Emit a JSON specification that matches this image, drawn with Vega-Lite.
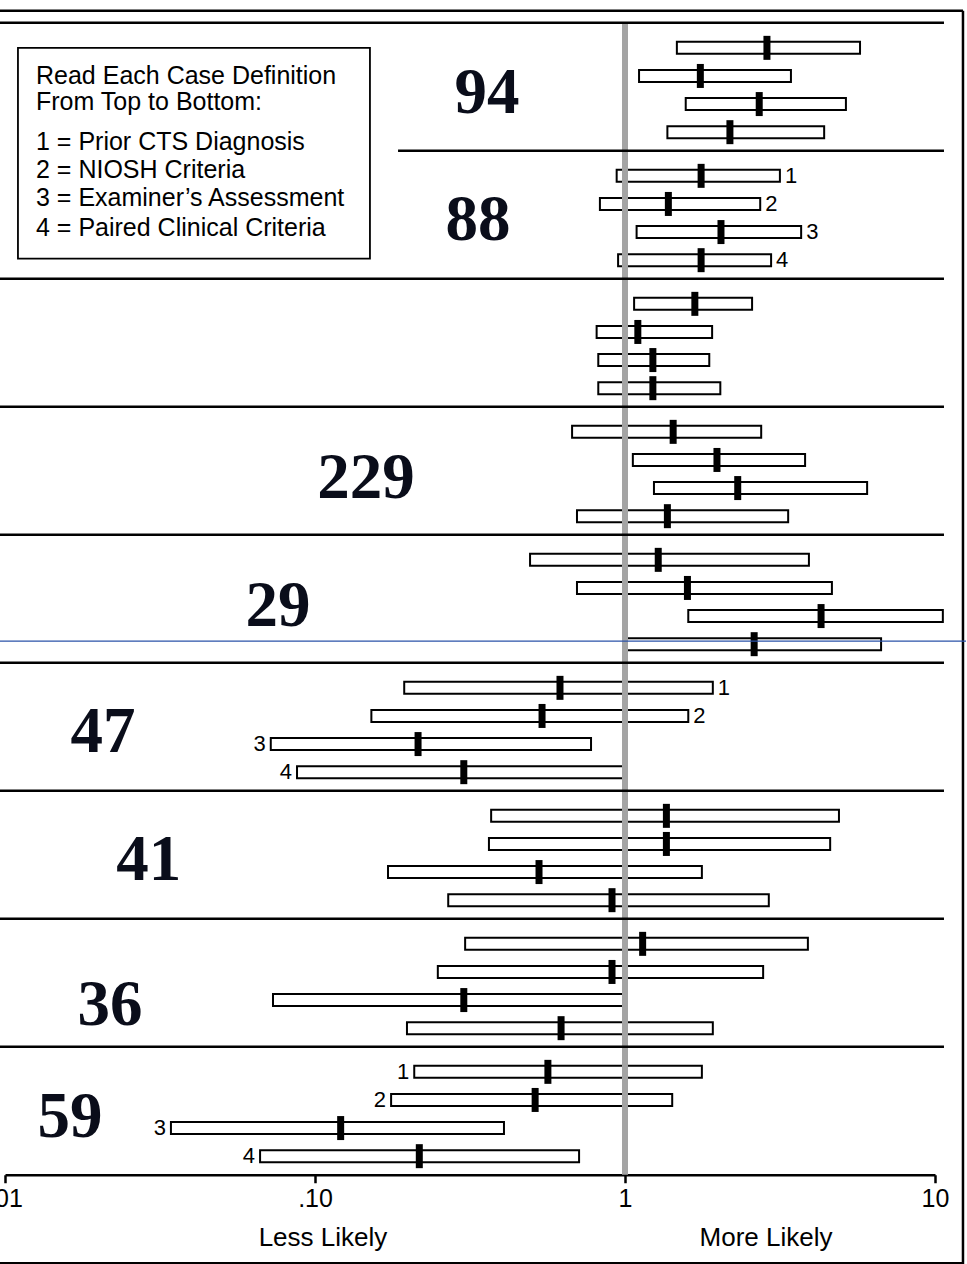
{
  "$schema": "https://vega.github.io/schema/vega-lite/v6.json",
  "autosize": {"type": "pad"},
  "padding": {"left": -19, "top": 8.75, "right": 0, "bottom": 0},
  "background": "white",
  "bounds": "flush",
  "config": {
    "view": {"stroke": null},
    "axisX": {
      "domainColor": "black", "domainWidth": 2.5, "tickColor": "black", "tickWidth": 2.5, "tickSize": 8,
      "labelFont": "Liberation Sans", "labelFontSize": 25, "labelColor": "black", "labelPadding": 4,
      "labelFlush": false, "grid": false
    }
  },
  "data": {"values": [
    {"kind": "ci", "g": "g1", "def": 1, "lo": 1.47, "est": 2.87, "hi": 5.73},
    {"kind": "ci", "g": "g1", "def": 2, "lo": 1.11, "est": 1.75, "hi": 3.43},
    {"kind": "ci", "g": "g1", "def": 3, "lo": 1.57, "est": 2.71, "hi": 5.16},
    {"kind": "ci", "g": "g1", "def": 4, "lo": 1.37, "est": 2.18, "hi": 4.39},
    {"kind": "ci", "g": "g2", "def": 1, "lo": 0.94, "est": 1.76, "hi": 3.16, "lab": "1", "side": "r"},
    {"kind": "ci", "g": "g2", "def": 2, "lo": 0.83, "est": 1.38, "hi": 2.73, "lab": "2", "side": "r"},
    {"kind": "ci", "g": "g2", "def": 3, "lo": 1.09, "est": 2.04, "hi": 3.70, "lab": "3", "side": "r"},
    {"kind": "ci", "g": "g2", "def": 4, "lo": 0.95, "est": 1.76, "hi": 2.96, "lab": "4", "side": "r"},
    {"kind": "ci", "g": "g3", "def": 1, "lo": 1.07, "est": 1.68, "hi": 2.57},
    {"kind": "ci", "g": "g3", "def": 2, "lo": 0.81, "est": 1.10, "hi": 1.91},
    {"kind": "ci", "g": "g3", "def": 3, "lo": 0.82, "est": 1.23, "hi": 1.87},
    {"kind": "ci", "g": "g3", "def": 4, "lo": 0.82, "est": 1.23, "hi": 2.03},
    {"kind": "ci", "g": "g4", "def": 1, "lo": 0.675, "est": 1.43, "hi": 2.75},
    {"kind": "ci", "g": "g4", "def": 2, "lo": 1.06, "est": 1.98, "hi": 3.81},
    {"kind": "ci", "g": "g4", "def": 3, "lo": 1.24, "est": 2.31, "hi": 6.04},
    {"kind": "ci", "g": "g4", "def": 4, "lo": 0.70, "est": 1.37, "hi": 3.36},
    {"kind": "ci", "g": "g5", "def": 1, "lo": 0.494, "est": 1.28, "hi": 3.92},
    {"kind": "ci", "g": "g5", "def": 2, "lo": 0.70, "est": 1.59, "hi": 4.65},
    {"kind": "ci", "g": "g5", "def": 3, "lo": 1.60, "est": 4.29, "hi": 10.6},
    {"kind": "ci", "g": "g5", "def": 4, "lo": 1.00, "est": 2.61, "hi": 6.70},
    {"kind": "ci", "g": "g6", "def": 1, "lo": 0.194, "est": 0.617, "hi": 1.92, "lab": "1", "side": "r"},
    {"kind": "ci", "g": "g6", "def": 2, "lo": 0.152, "est": 0.540, "hi": 1.60, "lab": "2", "side": "r"},
    {"kind": "ci", "g": "g6", "def": 3, "lo": 0.072, "est": 0.215, "hi": 0.777, "lab": "3", "side": "l"},
    {"kind": "ci", "g": "g6", "def": 4, "lo": 0.0875, "est": 0.302, "hi": 1.00, "lab": "4", "side": "l"},
    {"kind": "ci", "g": "g7", "def": 1, "lo": 0.370, "est": 1.36, "hi": 4.90},
    {"kind": "ci", "g": "g7", "def": 2, "lo": 0.364, "est": 1.36, "hi": 4.59},
    {"kind": "ci", "g": "g7", "def": 3, "lo": 0.172, "est": 0.528, "hi": 1.77},
    {"kind": "ci", "g": "g7", "def": 4, "lo": 0.269, "est": 0.908, "hi": 2.91},
    {"kind": "ci", "g": "g8", "def": 1, "lo": 0.305, "est": 1.14, "hi": 3.89},
    {"kind": "ci", "g": "g8", "def": 2, "lo": 0.249, "est": 0.908, "hi": 2.79},
    {"kind": "ci", "g": "g8", "def": 3, "lo": 0.0732, "est": 0.302, "hi": 0.99},
    {"kind": "ci", "g": "g8", "def": 4, "lo": 0.198, "est": 0.622, "hi": 1.92},
    {"kind": "ci", "g": "g9", "def": 1, "lo": 0.209, "est": 0.564, "hi": 1.77, "lab": "1", "side": "l"},
    {"kind": "ci", "g": "g9", "def": 2, "lo": 0.176, "est": 0.513, "hi": 1.42, "lab": "2", "side": "l"},
    {"kind": "ci", "g": "g9", "def": 3, "lo": 0.0343, "est": 0.121, "hi": 0.407, "lab": "3", "side": "l"},
    {"kind": "ci", "g": "g9", "def": 4, "lo": 0.0665, "est": 0.217, "hi": 0.711, "lab": "4", "side": "l"},
    {"kind": "num", "g": "g1", "t": "94", "x": 0.3588, "y": 3.32},
    {"kind": "num", "g": "g2", "t": "88", "x": 0.3356, "y": 3.30},
    {"kind": "num", "g": "g4", "t": "229", "x": 0.1461, "y": 3.36},
    {"kind": "num", "g": "g5", "t": "29", "x": 0.0760, "y": 3.37},
    {"kind": "num", "g": "g6", "t": "47", "x": 0.0207, "y": 3.30},
    {"kind": "num", "g": "g7", "t": "41", "x": 0.0291, "y": 3.30},
    {"kind": "num", "g": "g8", "t": "36", "x": 0.0218, "y": 3.90},
    {"kind": "num", "g": "g9", "t": "59", "x": 0.0162, "y": 3.31},
    {"kind": "leg", "g": "g1", "t": "Read Each Case Definition", "y": 2.286},
    {"kind": "leg", "g": "g1", "t": "From Top to Bottom:", "y": 3.214},
    {"kind": "leg", "g": "g1", "t": "1 = Prior CTS Diagnosis", "y": 4.643},
    {"kind": "leg", "g": "g1", "t": "2 = NIOSH Criteria", "y": 5.643},
    {"kind": "leg", "g": "g1", "t": "3 = Examiner’s Assessment", "y": 6.643},
    {"kind": "leg", "g": "g1", "t": "4 = Paired Clinical Criteria", "y": 7.679},
    {"kind": "ax", "g": "g9", "t": "Less Likely", "x": 0.1061, "y": 7.18},
    {"kind": "ax", "g": "g9", "t": "More Likely", "x": 2.85, "y": 7.18}
  ]},
  "facet": {"row": {"field": "g", "type": "nominal", "header": null, "sort": "ascending"}},
  "spacing": 0,
  "spec": {
    "width": 930,
    "height": 128,
    "layer": [
      {
        "transform": [{"filter": "datum.kind == 'ci'"}],
        "mark": {"type": "bar", "size": 12, "fill": "white", "stroke": "black", "strokeWidth": 2, "opacity": 1},
        "encoding": {
          "x": {"field": "lo", "type": "quantitative", "scale": {"type": "log", "domain": [0.01, 10], "nice": false, "padding": 0},
                "axis": {"title": null, "values": [0.01, 0.1, 1, 10], "labelExpr": "datum.value < 0.05 ? '.01' : datum.value < 0.5 ? '.10' : datum.value < 5 ? '1' : '10'"}},
          "x2": {"field": "hi"},
          "y": {"field": "def", "type": "quantitative", "scale": {"domain": [0.107, 4.661], "reverse": true, "nice": false, "zero": false, "padding": 0}, "axis": null}
        }
      },
      {
        "transform": [{"filter": "datum.kind == 'ci' && datum.def == 1"}],
        "mark": {"type": "rule", "color": "#a4a4a4", "strokeWidth": 6},
        "encoding": {"x": {"datum": 1, "type": "quantitative"}}
      },
      {
        "transform": [{"filter": "datum.kind == 'ci'"}],
        "mark": {"type": "tick", "orient": "vertical", "size": 24, "thickness": 7, "color": "black", "opacity": 1},
        "encoding": {
          "x": {"field": "est", "type": "quantitative"},
          "y": {"field": "def", "type": "quantitative", "axis": null}
        }
      },
      {
        "transform": [{"filter": "datum.kind == 'num'"}],
        "mark": {"type": "text", "font": "Liberation Serif", "fontWeight": "bold", "fontSize": 65, "align": "center", "baseline": "alphabetic", "color": "#0a0d1a"},
        "encoding": {
          "x": {"field": "x", "type": "quantitative"},
          "y": {"field": "y", "type": "quantitative", "axis": null},
          "text": {"field": "t"}
        }
      },
      {
        "transform": [{"filter": "datum.kind == 'ci' && datum.side == 'r'"}],
        "mark": {"type": "text", "font": "Liberation Sans", "fontSize": 22, "align": "left", "baseline": "middle", "dx": 5, "color": "black"},
        "encoding": {
          "x": {"field": "hi", "type": "quantitative"},
          "y": {"field": "def", "type": "quantitative", "axis": null},
          "text": {"field": "lab"}
        }
      },
      {
        "transform": [{"filter": "datum.kind == 'ci' && datum.side == 'l'"}],
        "mark": {"type": "text", "font": "Liberation Sans", "fontSize": 22, "align": "right", "baseline": "middle", "dx": -5, "color": "black"},
        "encoding": {
          "x": {"field": "lo", "type": "quantitative"},
          "y": {"field": "def", "type": "quantitative", "axis": null},
          "text": {"field": "lab"}
        }
      },
      {
        "transform": [{"filter": "datum.kind == 'ci' && datum.def == 1 && datum.g != 'g2'"}],
        "mark": {"type": "rule", "color": "black", "strokeWidth": 2.5},
        "encoding": {
          "x": {"datum": 0.0085, "type": "quantitative"},
          "x2": {"datum": 10.69},
          "y": {"datum": 0.107, "type": "quantitative", "axis": null}
        }
      },
      {
        "transform": [{"filter": "datum.kind == 'ci' && datum.def == 1 && datum.g == 'g2'"}],
        "mark": {"type": "rule", "color": "black", "strokeWidth": 2.5},
        "encoding": {
          "x": {"datum": 0.1853, "type": "quantitative"},
          "x2": {"datum": 10.69},
          "y": {"datum": 0.107, "type": "quantitative", "axis": null}
        }
      },
      {
        "transform": [{"filter": "datum.kind == 'ci' && datum.def == 1 && datum.g == 'g1'"}],
        "mark": {"type": "rule", "color": "black", "strokeWidth": 2.5},
        "encoding": {
          "x": {"datum": 0.0085, "type": "quantitative"},
          "x2": {"datum": 12.31},
          "y": {"datum": -0.321, "type": "quantitative", "axis": null}
        }
      },
      {
        "transform": [{"filter": "datum.kind == 'ci' && datum.def == 1 && datum.g == 'g1'"}],
        "mark": {"type": "rule", "color": "black", "strokeWidth": 2.5},
        "encoding": {
          "x": {"datum": 12.31, "type": "quantitative"},
          "y": {"datum": -0.321, "type": "quantitative", "axis": null},
          "y2": {"datum": 44.3}
        }
      },
      {
        "transform": [{"filter": "datum.kind == 'ci' && datum.def == 1 && datum.g == 'g9'"}],
        "mark": {"type": "rule", "color": "black", "strokeWidth": 2},
        "encoding": {
          "x": {"datum": 0.0085, "type": "quantitative"},
          "x2": {"datum": 12.31},
          "y": {"datum": 7.80, "type": "quantitative", "axis": null}
        }
      },
      {
        "transform": [{"filter": "datum.kind == 'ci' && datum.def == 1 && datum.g == 'g5'"}],
        "mark": {"type": "rule", "color": "#2a52a8", "strokeWidth": 1.2},
        "encoding": {
          "x": {"datum": 0.0085, "type": "quantitative"},
          "x2": {"datum": 12.59},
          "y": {"datum": 3.893, "type": "quantitative", "axis": null}
        }
      },
      {
        "transform": [{"filter": "datum.kind == 'ci' && datum.def == 1 && datum.g == 'g1'"}],
        "mark": {"type": "rect", "fill": "white", "stroke": "black", "strokeWidth": 1.8},
        "encoding": {
          "x": {"datum": 0.01101, "type": "quantitative"},
          "x2": {"datum": 0.1504},
          "y": {"datum": 1.0, "type": "quantitative", "axis": null},
          "y2": {"datum": 8.5}
        }
      },
      {
        "transform": [{"filter": "datum.kind == 'leg'"}],
        "mark": {"type": "text", "font": "Liberation Sans", "fontSize": 25, "align": "left", "baseline": "alphabetic", "color": "black"},
        "encoding": {
          "x": {"datum": 0.01259, "type": "quantitative"},
          "y": {"field": "y", "type": "quantitative", "axis": null},
          "text": {"field": "t"}
        }
      },
      {
        "transform": [{"filter": "datum.kind == 'ax'"}],
        "mark": {"type": "text", "font": "Liberation Sans", "fontSize": 26, "align": "center", "baseline": "alphabetic", "color": "black"},
        "encoding": {
          "x": {"field": "x", "type": "quantitative"},
          "y": {"field": "y", "type": "quantitative", "axis": null},
          "text": {"field": "t"}
        }
      }
    ]
  }
}
